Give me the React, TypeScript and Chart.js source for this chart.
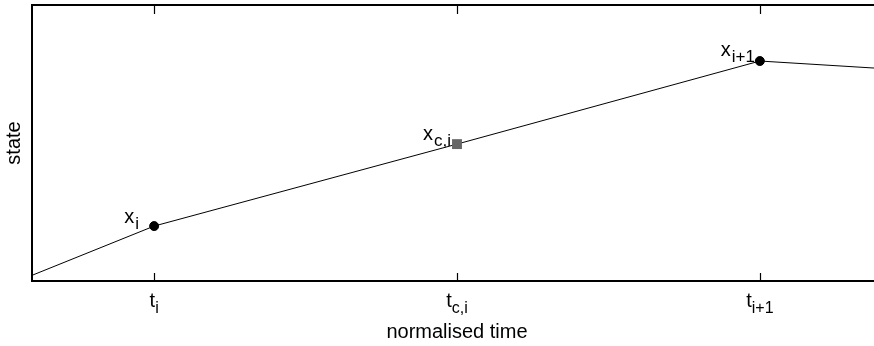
import React, { useEffect, useRef } from "react";
import { Chart, registerables } from "chart.js";

Chart.register(...registerables);

// ---- data ----
const times = [-0.2, 0, 0.5, 1, 1.2];
const states = [0.022, 0.199, 0.496, 0.797, 0.77];
const pointNames = ["", "x", "x", "x", ""];
const pointSubs = ["", "i", "c,i", "i+1", ""];
const pointKinds = ["none", "circle", "square", "circle", "none"];
const tickValues = [0, 0.5, 1];
const tickNames = ["t", "t", "t"];
const tickSubs = ["i", "c,i", "i+1"];
const xTitle = "normalised time";
const yTitle = "state";

// ---- style ----
const FONT = '"Liberation Sans", Arial, Helvetica, sans-serif';
const MAIN_SIZE = 20;
const SUB_DY = 6;
// label anchor offsets (right end, baseline) relative to point
const labelOffsets = [
  [0, 0],
  [-15, -3],
  [-6, -4],
  [-5, -5],
  [0, 0],
];

function subWidth(ctx: CanvasRenderingContext2D, main: string, sub: string, subSize: number, gap: number) {
  ctx.font = `${MAIN_SIZE}px ${FONT}`;
  const mw = ctx.measureText(main).width;
  ctx.font = `${subSize}px ${FONT}`;
  const sw = ctx.measureText(sub).width;
  return { mw, sw, total: mw + gap + sw };
}

function drawSub(
  ctx: CanvasRenderingContext2D,
  main: string,
  sub: string,
  left: number,
  baseline: number,
  subSize: number,
  gap: number
) {
  const { mw } = subWidth(ctx, main, sub, subSize, gap);
  ctx.textAlign = "left";
  ctx.textBaseline = "alphabetic";
  ctx.font = `${MAIN_SIZE}px ${FONT}`;
  ctx.fillText(main, left, baseline);
  ctx.font = `${subSize}px ${FONT}`;
  ctx.fillText(sub, left + mw + gap, baseline + SUB_DY);
}

const decorPlugin = {
  id: "decor",
  afterDraw(chart: any) {
    const ctx: CanvasRenderingContext2D = chart.ctx;
    const { left, right, top, bottom } = chart.chartArea;
    const xs = chart.scales.x;
    ctx.save();
    ctx.fillStyle = "#000";
    ctx.strokeStyle = "#000";
    // frame
    ctx.lineWidth = 2;
    ctx.beginPath();
    ctx.moveTo(right + 1, Math.round(top));
    ctx.lineTo(Math.round(left) - 1, Math.round(top));
    ctx.lineTo(Math.round(left) - 1, Math.round(bottom));
    ctx.lineTo(right + 1, Math.round(bottom));
    ctx.stroke();
    // inward ticks top and bottom
    ctx.lineWidth = 1.2;
    tickValues.forEach((v) => {
      const px = Math.round(xs.getPixelForValue(v)) + 0.5;
      ctx.beginPath();
      ctx.moveTo(px, bottom);
      ctx.lineTo(px, bottom - 8);
      ctx.moveTo(px, top);
      ctx.lineTo(px, top + 9);
      ctx.stroke();
    });
    // tick labels
    tickValues.forEach((v, i) => {
      const px = xs.getPixelForValue(v);
      const { total } = subWidth(ctx, tickNames[i], tickSubs[i], 16, 0);
      drawSub(ctx, tickNames[i], tickSubs[i], px - total / 2, bottom + 26, 16, 0);
    });
    // point labels
    const meta = chart.getDatasetMeta(0);
    meta.data.forEach((el: any, i: number) => {
      if (!pointNames[i]) return;
      const { total } = subWidth(ctx, pointNames[i], pointSubs[i], 17, 1);
      const [dx, dy] = labelOffsets[i];
      drawSub(ctx, pointNames[i], pointSubs[i], el.x + dx - total, el.y + dy, 17, 1);
    });
    // axis titles
    ctx.font = `${MAIN_SIZE}px ${FONT}`;
    ctx.textAlign = "center";
    ctx.textBaseline = "alphabetic";
    ctx.fillText(xTitle, (left + right) / 2, bottom + 57);
    ctx.translate(20, (top + bottom) / 2);
    ctx.rotate(-Math.PI / 2);
    ctx.fillText(yTitle, 0, 0);
    ctx.restore();
  },
};

export default function App() {
  const ref = useRef<HTMLCanvasElement | null>(null);
  useEffect(() => {
    if (!ref.current) return;
    const chart = new Chart(ref.current, {
      type: "line",
      data: {
        datasets: [
          {
            data: times.map((t, i) => ({ x: t, y: states[i] })),
            borderColor: "#000",
            borderWidth: 1,
            tension: 0,
            fill: false,
            pointStyle: pointKinds.map((k) => (k === "square" ? "rect" : "circle")) as any,
            pointRadius: pointKinds.map((k) => (k === "none" ? 0 : k === "square" ? 7 : 4.5)),
            pointBackgroundColor: pointKinds.map((k) => (k === "square" ? "#666666" : "#000")),
            pointBorderColor: pointKinds.map((k) => (k === "square" ? "#666666" : "#000")),
            pointBorderWidth: pointKinds.map((k) => (k === "square" ? 0 : 1)),
          },
        ],
      },
      options: {
        responsive: false,
        animation: false,
        devicePixelRatio: 1,
        layout: { padding: { left: 33, top: 5, right: 9, bottom: 65 } },
        plugins: { legend: { display: false }, tooltip: { enabled: false } },
        scales: {
          x: { type: "linear", min: -0.2, max: 1.2, display: false },
          y: { type: "linear", min: 0, max: 1, display: false },
        },
      },
      plugins: [decorPlugin],
    });
    return () => chart.destroy();
  }, []);
  return (
    <div
      style={{
        position: "fixed",
        left: 0,
        top: 0,
        width: 874,
        height: 346,
        overflow: "hidden",
        background: "#fff",
      }}
    >
      <canvas
        ref={ref}
        width={890}
        height={346}
        style={{ position: "absolute", left: 0, top: 0, width: 890, height: 346 }}
      />
    </div>
  );
}
